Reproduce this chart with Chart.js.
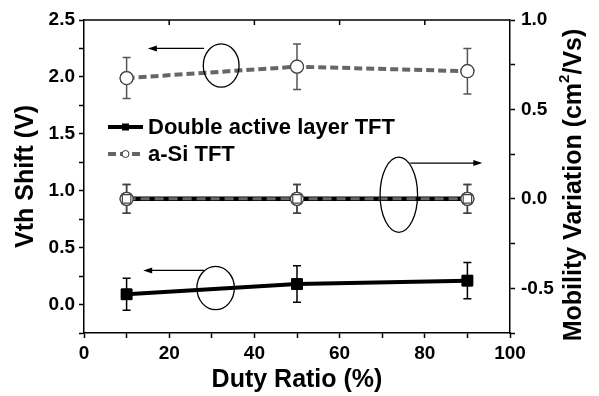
<!DOCTYPE html>
<html>
<head>
<meta charset="utf-8">
<script src="https://cdn.jsdelivr.net/npm/chart.js@4"></script>
<style>
  html, body { margin: 0; padding: 0; background: white; }
  #wrap { width: 599px; height: 396px; }
</style>
</head>
<body>
<div id="wrap"><canvas id="chart" width="599" height="396"></canvas></div>
<script>
// duty ratio (%)
const dutyRatio = [10, 50, 90];

// Vth shift (V), left axis
const vthDouble = [0.09, 0.18, 0.21];
const vthDoubleErr = [0.14, 0.16, 0.16];
const vthASi = [1.99, 2.09, 2.05];
const vthASiErr = [0.18, 0.2, 0.2];

// mobility variation (cm2/Vs), right axis
const mobDouble = [0.0, 0.0, 0.0];
const mobDoubleErr = [0.08, 0.08, 0.08];
const mobASi = [0.0, 0.0, 0.0];
const mobASiErr = [0.08, 0.08, 0.08];

const seriesNames = ['Double active layer TFT', 'a-Si TFT'];

// ellipses + arrows marking which axis a curve belongs to (data coords)
const ellipses = [
  { axis: 'y', x: 32.2, y: 2.10, rx: 4.2, ry: 0.19 },
  { axis: 'y', x: 30.9, y: 0.145, rx: 4.4, ry: 0.19 },
  { axis: 'y2', x: 73.9, y: 0.023, rx: 4.4, ry: 0.21 }
];
const arrows = [
  { axis: 'y', x1: 28.2, x2: 15.0, y: 2.25 },
  { axis: 'y', x1: 28.2, x2: 13.9, y: 0.30 },
  { axis: 'y2', x1: 76.6, x2: 93.5, y: 0.20 }
];

const FONT = "'Liberation Sans', Arial, sans-serif";
const GREY = '#666666';

const pts = (ys) => dutyRatio.map((x, i) => ({ x: x, y: ys[i] }));

// error bars, then markers redrawn on top of them
const errorBars = {
  id: 'errorBars',
  afterDatasetsDraw(chart) {
    const ctx = chart.ctx;
    chart.data.datasets.forEach(ds => {
      if (!ds.err) return;
      const xs = chart.scales.x;
      const ys = chart.scales[ds.yAxisID];
      ctx.save();
      ctx.strokeStyle = ds.errColor;
      ctx.lineWidth = 1.5;
      ds.data.forEach((p, i) => {
        const px = xs.getPixelForValue(p.x);
        const top = ys.getPixelForValue(p.y + ds.err[i]);
        const bot = ys.getPixelForValue(p.y - ds.err[i]);
        ctx.beginPath();
        ctx.moveTo(px, top); ctx.lineTo(px, bot);
        ctx.moveTo(px - 4, top); ctx.lineTo(px + 4, top);
        ctx.moveTo(px - 4, bot); ctx.lineTo(px + 4, bot);
        ctx.stroke();
      });
      ctx.restore();
    });
    chart.data.datasets.forEach((ds, di) => {
      const meta = chart.getDatasetMeta(di);
      meta.data.forEach(el => el.draw(ctx, chart.chartArea));
    });
  }
};

// frame, legend, annotations and right-side title
const extras = {
  id: 'extras',
  afterDraw(chart) {
    const ctx = chart.ctx;
    const a = chart.chartArea;
    const xs = chart.scales.x;
    ctx.save();
    // top frame with inward ticks
    ctx.strokeStyle = '#000';
    ctx.lineWidth = 1.5;
    ctx.beginPath();
    ctx.moveTo(a.left, a.top); ctx.lineTo(a.right, a.top);
    for (let v = 20; v < 100; v += 20) {
      const px = xs.getPixelForValue(v);
      ctx.moveTo(px, a.top); ctx.lineTo(px, a.top + 5);
    }
    ctx.stroke();

    // ellipses
    ctx.lineWidth = 1.3;
    ellipses.forEach(e => {
      const ys = chart.scales[e.axis];
      const cx = xs.getPixelForValue(e.x);
      const cy = ys.getPixelForValue(e.y);
      const rx = Math.abs(xs.getPixelForValue(e.x + e.rx) - cx);
      const ry = Math.abs(ys.getPixelForValue(e.y + e.ry) - cy);
      ctx.beginPath();
      ctx.ellipse(cx, cy, rx, ry, 0, 0, Math.PI * 2);
      ctx.stroke();
    });

    // arrows
    arrows.forEach(r => {
      const ys = chart.scales[r.axis];
      const x1 = xs.getPixelForValue(r.x1);
      const x2 = xs.getPixelForValue(r.x2);
      const py = ys.getPixelForValue(r.y);
      const dir = x2 > x1 ? 1 : -1;
      ctx.beginPath();
      ctx.moveTo(x1, py); ctx.lineTo(x2 - dir * 6, py);
      ctx.stroke();
      ctx.beginPath();
      ctx.moveTo(x2, py);
      ctx.lineTo(x2 - dir * 9, py - 3);
      ctx.lineTo(x2 - dir * 9, py + 3);
      ctx.closePath();
      ctx.fillStyle = '#000';
      ctx.fill();
    });

    // legend
    ctx.font = 'bold 22px ' + FONT;
    ctx.textBaseline = 'middle';
    ctx.fillStyle = '#000';
    const lx = a.left + 24, ly = a.top + 107;
    ctx.lineWidth = 4;
    ctx.strokeStyle = '#000';
    ctx.beginPath(); ctx.moveTo(lx, ly); ctx.lineTo(lx + 35, ly); ctx.stroke();
    ctx.fillRect(lx + 14, ly - 3.5, 7, 7);
    ctx.fillText(seriesNames[0], lx + 40, ly + 1);

    const ly2 = ly + 27;
    ctx.strokeStyle = GREY;
    ctx.setLineDash([8, 4]);
    ctx.beginPath(); ctx.moveTo(lx, ly2); ctx.lineTo(lx + 35, ly2); ctx.stroke();
    ctx.setLineDash([]);
    ctx.lineWidth = 1;
    ctx.beginPath(); ctx.arc(lx + 17.5, ly2, 3.5, 0, Math.PI * 2);
    ctx.fillStyle = '#fff'; ctx.fill();
    ctx.strokeStyle = '#333'; ctx.stroke();
    ctx.fillStyle = '#000';
    ctx.fillText(seriesNames[1], lx + 40, ly2 + 1);

    // right axis title, reading bottom to top
    ctx.translate(574, 185);
    ctx.rotate(-Math.PI / 2);
    const big = 'bold 25px ' + FONT, small = 'bold 15px ' + FONT;
    const t1 = 'Mobility Variation (cm', t2 = '/Vs)';
    ctx.font = big;
    const w1 = ctx.measureText(t1).width, w2 = ctx.measureText(t2).width;
    ctx.font = small;
    const ws = ctx.measureText('2').width;
    const start = -(w1 + ws + w2) / 2;
    ctx.textAlign = 'left';
    ctx.font = big;
    ctx.fillText(t1, start, 0);
    ctx.font = small;
    ctx.fillText('2', start + w1, -9);
    ctx.font = big;
    ctx.fillText(t2, start + w1 + ws, 0);
    ctx.restore();
  }
};

const data = {
  datasets: [
    {
      label: 'a-Si TFT mobility',
      data: pts(mobASi),
      err: mobASiErr,
      errColor: '#444',
      yAxisID: 'y2',
      borderColor: GREY,
      borderWidth: 3,
      borderDash: [9, 5],
      pointStyle: 'circle',
      pointRadius: 6.5,
      pointBackgroundColor: '#fff',
      pointBorderColor: '#444',
      pointBorderWidth: 1.2,
      order: 1
    },
    {
      label: 'Double active layer TFT mobility',
      data: pts(mobDouble),
      err: mobDoubleErr,
      errColor: '#444',
      yAxisID: 'y2',
      borderColor: '#000',
      borderWidth: 4.5,
      pointStyle: 'rect',
      pointRadius: 6,
      pointBackgroundColor: '#fff',
      pointBorderColor: '#444',
      pointBorderWidth: 1.2,
      order: 2
    },
    {
      label: 'a-Si TFT',
      data: pts(vthASi),
      err: vthASiErr,
      errColor: '#555',
      yAxisID: 'y',
      borderColor: GREY,
      borderWidth: 4,
      borderDash: [8, 4],
      pointStyle: 'circle',
      pointRadius: 6.5,
      pointBackgroundColor: '#fff',
      pointBorderColor: '#444',
      pointBorderWidth: 1.2,
      order: 3
    },
    {
      label: 'Double active layer TFT',
      data: pts(vthDouble),
      err: vthDoubleErr,
      errColor: '#000',
      yAxisID: 'y',
      borderColor: '#000',
      borderWidth: 4,
      pointStyle: 'rect',
      pointRadius: 7.5,
      pointBackgroundColor: '#000',
      pointBorderColor: '#000',
      pointBorderWidth: 1,
      order: 4
    }
  ]
};

const tickFont = { family: FONT, size: 19, weight: 'bold' };
const titleFont = { family: FONT, size: 25, weight: 'bold' };
const gridOpts = {
  drawOnChartArea: false,
  drawTicks: true,
  tickLength: 5,
  tickColor: '#000',
  tickWidth: 1.5
};
const borderOpts = { display: true, color: '#000', width: 1.5 };
const halfLabel = v => (Math.abs(v * 2 - Math.round(v * 2)) < 1e-6 ? v.toFixed(1) : '');

const config = {
  type: 'line',
  data: data,
  plugins: [errorBars, extras],
  options: {
    responsive: false,
    animation: false,
    layout: { padding: { top: 20, left: 0, right: 0, bottom: 0 } },
    plugins: {
      legend: { display: false },
      tooltip: { enabled: false }
    },
    scales: {
      x: {
        type: 'linear',
        min: 0,
        max: 100,
        grid: gridOpts,
        border: borderOpts,
        ticks: {
          stepSize: 10,
          autoSkip: false,
          maxRotation: 0,
          color: '#000',
          font: tickFont,
          padding: 4,
          callback: v => (v % 20 === 0 ? String(v) : '')
        },
        title: {
          display: true,
          text: 'Duty Ratio (%)',
          color: '#000',
          font: titleFont,
          padding: { top: 0, bottom: 1 }
        },
        afterFit: s => { s.height = 63; }
      },
      y: {
        type: 'linear',
        position: 'left',
        min: -0.25,
        max: 2.5,
        grid: gridOpts,
        border: borderOpts,
        ticks: {
          stepSize: 0.25,
          autoSkip: false,
          color: '#000',
          font: tickFont,
          padding: 4,
          callback: halfLabel
        },
        title: {
          display: true,
          text: 'Vth Shift (V)',
          color: '#000',
          font: titleFont,
          padding: { top: 11, bottom: 0 }
        },
        afterFit: s => { s.width = 84; }
      },
      y2: {
        type: 'linear',
        position: 'right',
        min: -0.75,
        max: 1.0,
        grid: gridOpts,
        border: borderOpts,
        ticks: {
          stepSize: 0.25,
          autoSkip: false,
          color: '#000',
          font: tickFont,
          padding: 6,
          callback: halfLabel
        },
        title: { display: false },
        afterFit: s => { s.width = 89; }
      }
    }
  }
};

const ctx = document.getElementById('chart').getContext('2d');
new Chart(ctx, config);
</script>
</body>
</html>
